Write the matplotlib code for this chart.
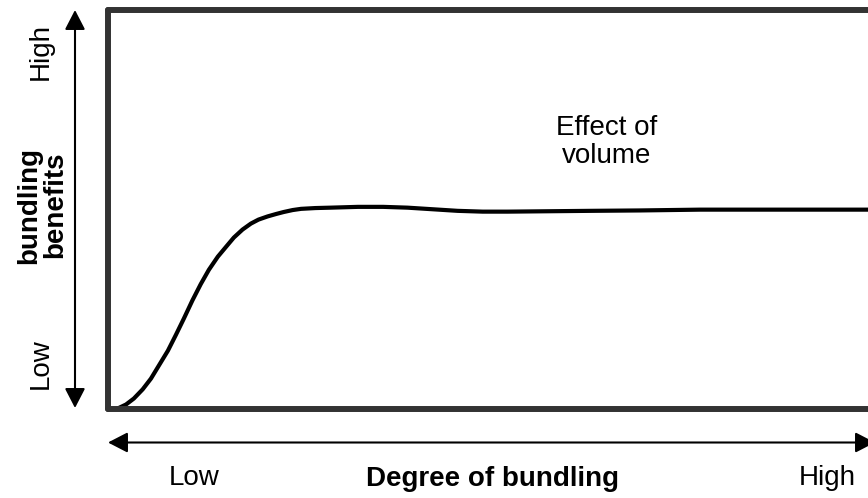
import matplotlib
matplotlib.use("Agg")
import matplotlib.pyplot as plt
from matplotlib.patches import FancyArrowPatch

plt.rcParams["font.family"] = ["Liberation Sans", "DejaVu Sans"]

# Degree of bundling (0-1) vs bundling benefits (0-1)
degree  = [0.0127, 0.0237, 0.034, 0.0456, 0.0565, 0.067, 0.0788, 0.0894, 0.0999, 0.111,
           0.122, 0.1327, 0.1445, 0.155, 0.1656, 0.177, 0.188, 0.198, 0.210, 0.221,
           0.231, 0.243, 0.254, 0.273, 0.293, 0.311, 0.329, 0.362, 0.394, 0.427,
           0.460, 0.493, 0.526, 0.580, 0.635, 0.700, 0.779, 0.890, 1.0]
benefit = [0.000, 0.010, 0.025, 0.048, 0.075, 0.108, 0.145, 0.185, 0.226, 0.271,
           0.312, 0.348, 0.381, 0.405, 0.429, 0.449, 0.464, 0.474, 0.482, 0.488,
           0.493, 0.498, 0.501, 0.503, 0.504, 0.505, 0.506, 0.506, 0.504, 0.500,
           0.496, 0.494, 0.494, 0.495, 0.496, 0.497, 0.499, 0.499, 0.499]

W, H = 868, 498
fig = plt.figure(figsize=(W / 100, H / 100), dpi=100)

def fx(px):
    return px / W

def fy(py):
    return 1 - py / H

# frame: left 108px, top 10px, bottom 408.5px, open on the right
ax = fig.add_axes([fx(108), fy(408.5), (W - 108) / W, (408.5 - 10) / H])
ax.plot(degree, benefit, color="black", linewidth=3.0, solid_capstyle="round",
        solid_joinstyle="round", clip_on=False)
ax.set_xlim(0, 1)
ax.set_ylim(0, 1)
ax.set_xticks([])
ax.set_yticks([])
for side in ["left", "top", "bottom"]:
    ax.spines[side].set_color("#333333")
    ax.spines[side].set_linewidth(4.3)
    ax.spines[side].set_capstyle("round")
ax.spines["right"].set_visible(False)

arrow = dict(arrowstyle="<|-|>,head_length=1.2,head_width=0.62", color="black", lw=1.5,
             shrinkA=0, shrinkB=0, mutation_scale=10, transform=fig.transFigure)
# vertical axis arrow
fig.add_artist(FancyArrowPatch((fx(75), fy(408)), (fx(75), fy(10)), **arrow))
# horizontal axis arrow (right head runs off the edge)
fig.add_artist(FancyArrowPatch((fx(108), fy(442.5)), (fx(875), fy(442.5)), **arrow))

fs = 20
fig.text(fx(41), fy(51), "High", rotation=90, ha="center", va="center", fontsize=fs)
fig.text(fx(41), fy(364), "Low", rotation=90, ha="center", va="center", fontsize=fs)
fig.text(fx(42), fy(205), "bundling\nbenefits", rotation=90, ha="center", va="center",
         fontsize=fs, fontweight="bold", linespacing=1.0)

fig.text(fx(194), fy(485), "Low", ha="center", va="baseline", fontsize=fs)
fig.text(fx(492), fy(486), "Degree of bundling", ha="center", va="baseline",
         fontsize=fs, fontweight="bold")
fig.text(fx(827), fy(485), "High", ha="center", va="baseline", fontsize=fs)

fig.text(fx(607), fy(142), "Effect of\nvolume", ha="center", va="center",
         fontsize=fs, linespacing=1.1)

fig.savefig("out.png", dpi=100)
